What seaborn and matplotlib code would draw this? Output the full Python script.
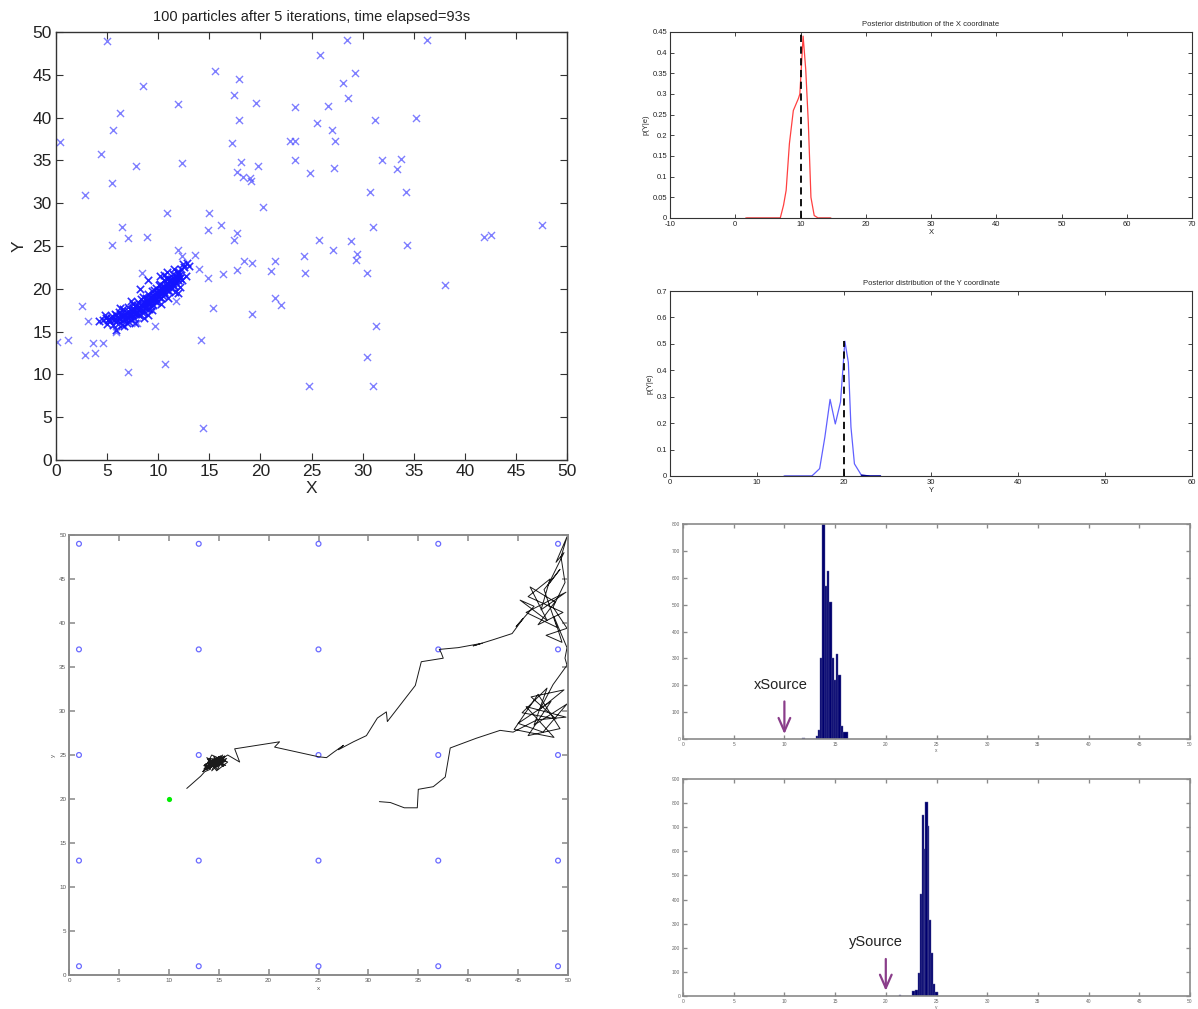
import matplotlib
matplotlib.use("Agg")
import matplotlib.pyplot as plt
import seaborn as sns
import numpy as np
import pandas as pd

# ---- particle cloud (top left) ----
scatter_x = [5.0, 0.4, 4.4, 5.6, 6.3, 8.5, 5.5, 2.8, 7.8, 11.9, 12.3, 15.6, 17.4, 17.9, 17.9, 19.6,
             17.2, 18.1, 17.7, 18.3, 19.0, 19.1, 19.8, 20.3, 23.4, 22.9, 23.4, 23.4, 24.9, 25.5, 25.8,
             10.9, 15.0, 14.9, 16.1, 17.4, 17.7, 6.5, 7.0, 8.9, 5.5, 11.9, 12.3, 13.6, 24.3,
             28.5, 36.3, 29.3, 28.1, 28.6, 26.6, 27.0, 27.3, 31.2, 35.2, 31.9, 33.8, 33.4, 27.2,
             30.7, 34.2, 31.0, 47.6, 41.9, 42.6, 25.7, 28.9, 27.1, 34.3, 29.5, 29.4,
             24.4, 30.4, 38.1, 31.3, 30.4, 24.8, 31.0,
             14.0, 14.9, 16.3, 17.7, 18.4, 19.2, 21.0, 21.4, 21.4, 22.0, 19.2, 15.4, 14.2, 14.4,
             10.7, 7.0, 2.5, 3.1, 0.1, 1.2, 2.8, 3.6, 3.8, 4.6, 5.9, 9.7, 8.4, 11.7, 7.9]
scatter_y = [48.9, 37.1, 35.8, 38.5, 40.5, 43.7, 32.4, 31.0, 34.3, 41.6, 34.7, 45.4, 42.6, 44.5, 39.7, 41.7,
             37.0, 34.8, 33.6, 33.1, 32.9, 32.6, 34.4, 29.5, 41.2, 37.3, 37.3, 35.0, 33.5, 39.4, 47.3,
             28.9, 28.9, 26.9, 27.5, 25.7, 26.5, 27.2, 25.9, 26.0, 25.1, 24.5, 23.8, 23.9, 23.8,
             49.1, 49.1, 45.2, 44.1, 42.3, 41.3, 38.5, 37.3, 39.7, 40.0, 35.0, 35.2, 34.0, 34.1,
             31.3, 31.3, 27.2, 27.5, 26.0, 26.3, 25.7, 25.6, 24.5, 25.1, 24.1, 23.4,
             21.9, 21.8, 20.4, 15.6, 12.0, 8.6, 8.6,
             22.3, 21.3, 21.7, 22.2, 23.2, 23.0, 22.1, 23.2, 18.9, 18.1, 17.1, 17.8, 14.0, 3.7,
             11.2, 10.3, 18.0, 16.2, 13.8, 14.0, 12.3, 13.7, 12.5, 13.7, 14.9, 15.6, 21.9, 18.6, 16.0]

# dense band of particles near the source
cluster_x = [4.2, 4.6, 4.9, 5.2, 5.5, 5.3, 5.8, 5.6, 6.0, 6.2, 6.1, 6.4, 6.6, 6.5, 6.8, 6.9, 7.0, 7.1,
             7.2, 7.4, 7.5, 7.6, 7.8, 7.9, 8.0, 8.1, 8.3, 8.4, 8.5, 8.6, 8.8, 8.9, 9.0, 9.1, 9.2, 9.3,
             9.4, 9.5, 9.6, 9.7, 9.8, 9.9, 10.0, 10.1, 10.2, 10.3, 10.4, 10.5, 10.6, 10.7, 10.8, 10.9,
             11.0, 11.1, 11.2, 11.3, 11.4, 11.5, 11.6, 11.7, 11.8, 11.9, 12.0, 12.2, 12.4, 12.1, 11.6,
             11.0, 10.3, 9.4, 8.6, 7.7, 6.7, 5.9, 12.5, 12.8, 13.0, 12.7, 11.9, 9.0, 8.2, 9.0, 10.2,
             10.9, 5.0, 4.8, 6.3, 7.3, 12.3, 11.5, 10.6,
             6.3, 6.7, 7.0, 7.3, 7.6, 7.9, 8.2, 8.5, 8.7, 9.0, 9.2, 9.5, 9.7, 10.0, 10.3, 10.5, 10.8,
             11.1, 11.3, 11.6, 11.9, 8.0, 8.8, 9.6, 10.9, 6.9, 7.7, 10.1, 11.4, 8.3,
             5.1, 5.4, 5.7, 5.9, 6.2, 6.4, 6.6, 6.8, 7.0, 7.2, 7.4, 7.5, 7.7, 7.9, 8.1, 8.3, 8.4, 8.6,
             8.8, 8.9, 9.1, 9.3, 9.4, 9.6, 9.8, 9.9, 10.1, 10.2, 10.4, 10.6, 10.7, 10.9, 11.0, 11.2,
             11.4, 11.5, 11.7, 11.8, 12.0, 12.1, 8.0, 9.0, 10.0, 11.0, 7.0, 6.0, 9.5, 10.5]
cluster_y = [16.2, 16.4, 16.6, 16.5, 16.8, 16.2, 17.0, 15.8, 16.4, 17.3, 15.9, 16.8, 17.6, 15.8, 16.5,
             17.2, 17.9, 16.1, 16.8, 17.4, 18.2, 16.6, 17.1, 17.8, 18.5, 16.9, 17.6, 18.2, 19.0, 17.3,
             18.0, 18.7, 19.4, 17.6, 18.3, 19.0, 19.8, 18.1, 18.7, 19.4, 20.1, 18.5, 19.2, 19.9, 20.6,
             18.9, 19.6, 20.3, 21.0, 19.4, 20.0, 20.7, 21.3, 19.8, 20.5, 21.1, 21.7, 20.3, 20.9, 21.5,
             22.0, 21.0, 21.6, 22.3, 22.9, 20.2, 19.6, 18.9, 18.2, 17.5, 16.6, 16.0, 15.6, 15.2, 22.6,
             23.0, 22.7, 21.5, 19.5, 16.9, 20.0, 21.0, 21.5, 22.0, 15.9, 16.9, 17.8, 18.6, 21.0, 22.3,
             21.6,
             16.5, 16.9, 16.6, 17.0, 17.5, 17.3, 17.8, 18.3, 17.7, 18.2, 18.9, 19.3, 18.6, 19.8, 20.0,
             19.2, 20.4, 20.9, 20.2, 21.2, 21.8, 17.0, 18.9, 19.9, 21.2, 16.0, 18.0, 20.4, 20.7, 18.8,
             16.3, 16.6, 16.4, 16.9, 16.6, 17.1, 16.3, 17.0, 17.4, 16.5, 16.9, 17.7, 17.0, 18.1, 17.5,
             18.1, 17.3, 18.5, 17.8, 18.4, 18.8, 18.0, 18.6, 19.1, 18.9, 19.6, 19.0, 19.7, 20.1, 19.6,
             20.2, 19.9, 20.6, 21.0, 20.5, 21.1, 20.7, 21.3, 22.0, 21.3, 17.6, 18.5, 19.4, 20.2, 17.0,
             16.7, 19.0, 19.9]

# ---- posterior curves (top right) ----
post_x = [1.6, 3.0, 5.0, 6.9, 7.4, 7.8, 8.3, 8.9, 9.7, 9.9, 10.4, 10.8, 11.2, 11.6, 12.1, 12.7, 14.6]
post_px = [0, 0, 0, 0, 0.031, 0.067, 0.18, 0.26, 0.29, 0.30, 0.44, 0.36, 0.23, 0.05, 0.006, 0, 0]
post_y = [13.1, 15.0, 16.3, 16.5, 17.2, 17.8, 18.4, 19.0, 19.6, 20.1, 20.5, 20.8, 21.2, 22.0, 23.0, 24.2]
post_py = [0, 0, 0, 0.006, 0.028, 0.147, 0.29, 0.197, 0.28, 0.51, 0.43, 0.185, 0.046, 0.003, 0, 0]
x_source = 10
y_source = 20

# ---- sensor grid and robot trajectory (bottom left) ----
sensor_pos = [1, 13, 25, 37, 49]
traj_x = [11.8, 12.6, 13.2, 13.6,
          14.2, 13.5, 14.8, 13.7, 15.0, 13.9, 15.3, 14.1, 15.6, 14.4, 13.8, 15.1, 14.0, 15.5, 14.3,
          14.9, 13.6, 15.2, 14.6, 15.7, 14.2, 13.9, 15.0, 14.7, 15.4, 14.5, 15.8, 14.8, 15.3, 14.1,
          13.4, 14.6, 15.5, 13.8, 14.9, 15.9, 14.3, 13.6, 15.1, 14.5, 15.7, 13.9, 14.8, 15.6, 14.0,
          15.2, 13.5, 14.7, 15.9,
          17.1, 16.6, 20.5, 21.1, 20.6, 25.0, 25.8, 26.5, 27.5, 27.0, 28.0, 28.5, 29.8, 30.9, 31.8,
          31.9, 34.7, 35.3, 37.5, 37.3, 37.1, 39.0, 41.4, 40.5, 42.5, 44.4,
          45.5, 44.8, 46.6, 45.2, 47.9, 46.2, 48.7, 47.0, 49.5, 46.0, 48.2, 47.3, 49.8, 45.8, 48.9,
          47.6, 49.2, 48.0, 49.6, 48.8, 49.9, 49.3, 49.7, 48.5, 49.9, 47.8, 49.4, 48.6, 49.9, 49.7,
          49.9, 48.5,
          47.2, 49.6, 46.3, 48.8, 45.4, 47.9, 46.6, 49.9, 47.5, 45.0, 48.3, 46.0, 49.2, 47.0, 44.6,
          48.6, 45.8, 49.8, 46.9, 44.5,
          43.2, 40.8, 38.2, 37.8, 37.7, 36.5, 35.0, 34.9, 33.6, 32.2, 31.1]
traj_y = [21.2, 22.0, 22.6, 23.1,
          23.4, 23.8, 24.0, 23.3, 24.4, 24.1, 24.6, 23.5, 24.8, 24.5, 23.6, 24.1, 24.3, 24.5, 23.2,
          24.7, 23.9, 24.9, 23.7, 24.3, 24.6, 23.4, 24.8, 23.9, 25.0, 24.2, 24.6, 23.6, 24.3, 24.0,
          23.1, 24.4, 23.7, 24.7, 23.3, 24.2, 25.0, 23.5, 23.9, 24.8, 23.8, 24.5, 23.2, 24.9, 23.7,
          24.6, 23.4, 24.1, 25.0,
          24.2, 25.7, 26.4, 26.5, 25.9, 24.8, 24.7, 25.3, 26.1, 25.6, 26.2, 26.5, 27.2, 29.2, 29.9,
          28.8, 32.9, 35.6, 36.0, 36.6, 37.0, 37.2, 37.7, 37.4, 38.1, 38.8,
          40.5, 39.6, 41.9, 42.6, 40.3, 44.1, 42.4, 39.8, 41.2, 43.0, 45.0, 41.5, 43.5, 41.2, 39.5,
          43.8, 46.1, 44.3, 48.0, 46.9, 49.8, 47.5, 44.6, 41.8, 39.4, 38.6, 37.8, 40.7, 37.2, 36.0,
          35.2, 33.0,
          30.2, 32.4, 31.6, 29.1, 29.8, 32.6, 28.4, 30.8, 27.6, 28.6, 31.1, 27.2, 28.0, 31.9, 27.9,
          27.0, 30.5, 29.3, 29.0, 27.6,
          27.8, 26.9, 25.8, 23.1, 22.5, 21.4, 21.1, 19.0, 19.0, 19.6, 19.7]
robot_start = (10, 20)

# ---- particle histograms (bottom right) ----
hist_x_edges = [11.7, 12.0, 13.1, 13.3, 13.5, 13.7, 14.0, 14.2, 14.4, 14.7, 14.9, 15.1, 15.3, 15.6, 15.8, 16.3]
hist_x_counts = [5, 0, 10, 35, 300, 800, 570, 625, 510, 300, 220, 315, 240, 50, 25]
hist_y_edges = [21.3, 21.5, 22.6, 22.9, 23.2, 23.4, 23.6, 23.8, 23.9, 24.2, 24.3, 24.5, 24.7, 24.9, 25.1]
hist_y_counts = [3, 0, 20, 25, 95, 425, 750, 610, 805, 705, 315, 180, 50, 15]

sns.set_theme(style="ticks")
plt.rcParams['font.family'] = ['Liberation Sans', 'DejaVu Sans']
plt.rcParams['xtick.direction'] = 'in'
plt.rcParams['ytick.direction'] = 'in'
plt.rcParams['axes.unicode_minus'] = False

fig = plt.figure(figsize=(11.98, 10.09), dpi=100)
W, H = 1198, 1009


def add_ax(left, top, right, bottom):
    return fig.add_axes([left / W, 1 - bottom / H, (right - left) / W, (bottom - top) / H])


def matlab_box(ax, color, lw, size, length, labelcolor=None, pad=2):
    for s in ax.spines.values():
        s.set_color(color)
        s.set_linewidth(lw)
    ax.tick_params(top=True, right=True, labelsize=size, length=length, width=lw * 0.8,
                   color=color, labelcolor=labelcolor or '#222222', pad=pad)


# top left: particles
ax1 = add_ax(56, 32, 567, 460)
sns.scatterplot(x=scatter_x, y=scatter_y, marker='x', color='#4848ff', s=26, linewidth=1.0,
                alpha=0.7, ax=ax1)
sns.scatterplot(x=cluster_x, y=cluster_y, marker='x', color='#1414ff', s=28, linewidth=1.2,
                alpha=0.9, ax=ax1)
ax1.set_xlim(0, 50)
ax1.set_ylim(0, 50)
ax1.set_xticks(np.arange(0, 51, 5))
ax1.set_yticks(np.arange(0, 51, 5))
matlab_box(ax1, '#333333', 1.0, 12.5, 5, pad=3)
ax1.set_xlabel('X', fontsize=12.5, labelpad=1)
ax1.set_ylabel('Y', fontsize=12.5, labelpad=4)
ax1.set_title('100 particles after 5 iterations, time elapsed=93s', fontsize=10.5, pad=8,
              color='#222222')

# top right: posterior of X
ax2 = add_ax(670, 32, 1192, 218)
sns.lineplot(x=post_x, y=post_px, color='#ff4040', lw=0.9, sort=False, estimator=None, ax=ax2)
sns.lineplot(x=post_x[:4], y=post_px[:4], color='#a00000', lw=1.0, ax=ax2)
sns.lineplot(x=post_x[-2:], y=post_px[-2:], color='#a00000', lw=1.0, ax=ax2)
ax2.vlines(x_source, 0, 0.45, colors='black', linestyles=(0, (4, 2.5)), lw=1.3)
ax2.set_xlim(-10, 70)
ax2.set_ylim(0, 0.45)
ax2.set_xticks(np.arange(-10, 71, 10))
ax2.set_yticks(np.arange(0, 0.451, 0.05))
ax2.set_yticklabels(['0', '0.05', '0.1', '0.15', '0.2', '0.25', '0.3', '0.35', '0.4', '0.45'])
matlab_box(ax2, '#333333', 0.8, 5.5, 3)
ax2.set_xlabel('X', fontsize=5.5, labelpad=1)
ax2.set_ylabel('p(Y|e)', fontsize=5.5, labelpad=2)
ax2.set_title('Posterior distribution of the X coordinate', fontsize=5.5, pad=4)

# top right: posterior of Y
ax3 = add_ax(670, 291, 1192, 476)
sns.lineplot(x=post_y, y=post_py, color='#6060ff', lw=0.9, sort=False, estimator=None, ax=ax3)
sns.lineplot(x=post_y[:3], y=post_py[:3], color='#000090', lw=1.0, ax=ax3)
sns.lineplot(x=post_y[-3:], y=post_py[-3:], color='#000090', lw=1.0, ax=ax3)
ax3.vlines(y_source, 0, max(post_py), colors='black', linestyles=(0, (4, 2.5)), lw=1.3)
ax3.set_xlim(0, 60)
ax3.set_ylim(0, 0.7)
ax3.set_xticks(np.arange(0, 61, 10))
ax3.set_yticks(np.arange(0, 0.71, 0.1))
ax3.set_yticklabels(['0', '0.1', '0.2', '0.3', '0.4', '0.5', '0.6', '0.7'])
matlab_box(ax3, '#333333', 0.8, 5.5, 3)
ax3.set_xlabel('Y', fontsize=5.5, labelpad=1)
ax3.set_ylabel('p(Y|e)', fontsize=5.5, labelpad=2)
ax3.set_title('Posterior distribution of the Y coordinate', fontsize=5.5, pad=4)

# bottom left: sensors and trajectory
ax4 = add_ax(69, 535, 568, 975)
grid = pd.DataFrame([(sx, sy) for sx in sensor_pos for sy in sensor_pos], columns=['x', 'y'])
sns.lineplot(x=traj_x, y=traj_y, color='#1a1a1a', lw=0.7, sort=False, estimator=None, ax=ax4)
sns.scatterplot(data=grid, x='x', y='y', marker='o', s=12, ax=ax4)
ax4.collections[-1].set_facecolor('none')
ax4.collections[-1].set_edgecolor('#6a6aff')
ax4.collections[-1].set_linewidth(0.9)
sns.scatterplot(x=[robot_start[0]], y=[robot_start[1]], color='#00ee00', s=14, linewidth=0, ax=ax4)
ax4.set_xlim(0, 50)
ax4.set_ylim(0, 50)
ax4.set_xticks(np.arange(0, 51, 5))
ax4.set_yticks(np.arange(0, 51, 5))
matlab_box(ax4, '#8a8a8a', 1.4, 4.5, 4, labelcolor='#555555')
ax4.set_xlabel('x', fontsize=4.5, color='#555555', labelpad=2)
ax4.set_ylabel('y', fontsize=4.5, color='#555555', labelpad=2)

# bottom right: histograms of particle positions
navy = '#00006e'
purple = '#8a3d8a'

ax5 = add_ax(683, 524, 1190, 739)
sns.histplot(x=hist_x_edges[:-1], weights=hist_x_counts, bins=hist_x_edges, color=navy, alpha=1,
             edgecolor='#5a5a9a', linewidth=0.3, ax=ax5)
ax5.annotate('', xy=(x_source, 8), xytext=(x_source, 150),
             arrowprops=dict(arrowstyle='->,head_width=0.35,head_length=0.8', color=purple, lw=1.6))
ax5.text(9.6, 200, 'xSource', fontsize=10.5, ha='center', va='center', color='#222222')
ax5.set_xlim(0, 50)
ax5.set_ylim(0, 800)
ax5.set_xticks(np.arange(0, 51, 5))
ax5.set_yticks(np.arange(0, 801, 100))
matlab_box(ax5, '#8a8a8a', 1.2, 3.5, 3, labelcolor='#666666')
ax5.set_xlabel('x', fontsize=3.5, color='#666666', labelpad=1)
ax5.set_ylabel('')

ax6 = add_ax(683, 779, 1190, 996)
sns.histplot(x=hist_y_edges[:-1], weights=hist_y_counts, bins=hist_y_edges, color=navy, alpha=1,
             edgecolor='#5a5a9a', linewidth=0.3, ax=ax6)
ax6.annotate('', xy=(y_source, 10), xytext=(y_source, 165),
             arrowprops=dict(arrowstyle='->,head_width=0.35,head_length=0.8', color=purple, lw=1.6))
ax6.text(19.0, 225, 'ySource', fontsize=10.5, ha='center', va='center', color='#222222')
ax6.set_xlim(0, 50)
ax6.set_ylim(0, 900)
ax6.set_xticks(np.arange(0, 51, 5))
ax6.set_yticks(np.arange(0, 901, 100))
matlab_box(ax6, '#8a8a8a', 1.2, 3.5, 3, labelcolor='#666666')
ax6.set_xlabel('y', fontsize=3.5, color='#666666', labelpad=1)
ax6.set_ylabel('')

fig.savefig('out.png', dpi=100, facecolor='white')
